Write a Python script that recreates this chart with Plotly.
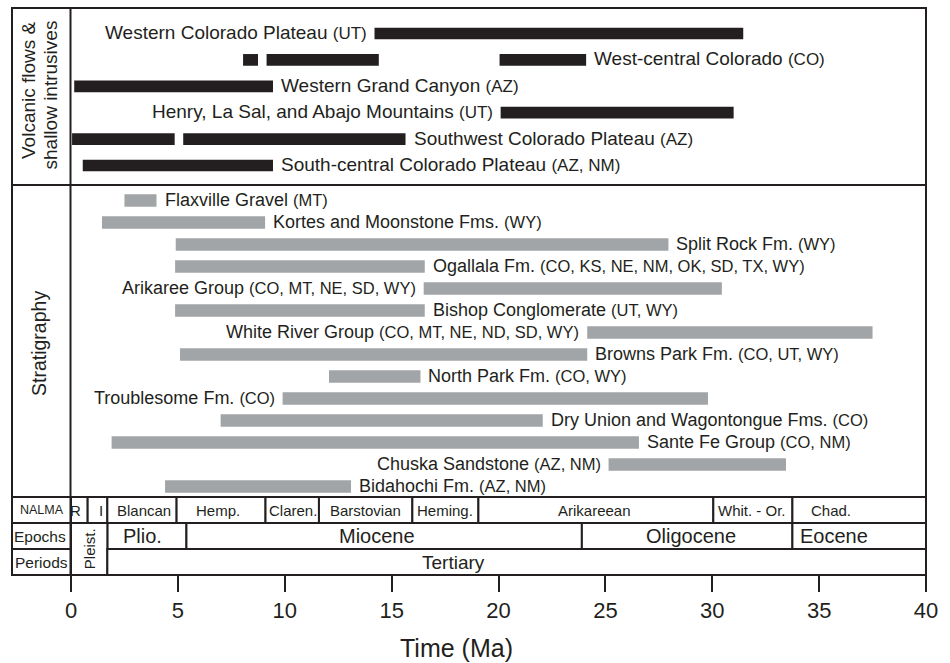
import plotly.graph_objects as go

# ---------------- data ----------------
volc_names = ["Western Colorado Plateau", "West-central Colorado", "Western Grand Canyon",
              "Henry, La Sal, and Abajo Mountains", "Southwest Colorado Plateau",
              "South-central Colorado Plateau"]
volc_states = ["UT", "CO", "AZ", "UT", "AZ", "AZ, NM"]
volc_seg_unit = [0, 1, 1, 1, 2, 3, 4, 4, 5]
volc_seg_start = [14.2, 8.05, 9.15, 20.05, 0.15, 20.1, 0.05, 5.25, 0.55]
volc_seg_end = [31.45, 8.75, 14.4, 24.1, 9.45, 31.0, 4.85, 15.65, 9.45]

strat_names = ["Flaxville Gravel", "Kortes and Moonstone Fms.", "Split Rock Fm.", "Ogallala Fm.",
               "Arikaree Group", "Bishop Conglomerate", "White River Group", "Browns Park Fm.",
               "North Park Fm.", "Troublesome Fm.", "Dry Union and Wagontongue Fms.",
               "Sante Fe Group", "Chuska Sandstone", "Bidahochi Fm."]
strat_states = ["MT", "WY", "WY", "CO, KS, NE, NM, OK, SD, TX, WY", "CO, MT, NE, SD, WY", "UT, WY",
                "CO, MT, NE, ND, SD, WY", "CO, UT, WY", "CO, WY", "CO", "CO", "CO, NM",
                "AZ, NM", "AZ, NM"]
strat_start = [2.5, 1.45, 4.9, 4.87, 16.5, 4.87, 24.15, 5.1, 12.07, 9.9, 7.0, 1.9, 25.15, 4.4]
strat_end = [4.0, 9.08, 27.95, 16.55, 30.45, 16.55, 37.5, 24.15, 16.35, 29.8, 22.07, 26.57, 33.45, 13.1]

nalma_names = ["R", "I", "Blancan", "Hemp.", "Claren.", "Barstovian", "Heming.", "Arikareean",
               "Whit. - Or.", "Chad."]
nalma_bounds = [0, 0.78, 1.7, 4.94, 9.1, 11.6, 15.97, 19.06, 30.05, 33.75, 40]
epoch_names = ["Pleist.", "Plio.", "Miocene", "Oligocene", "Eocene"]
epoch_bounds = [0, 1.7, 5.4, 23.9, 33.75, 40]
period_names = ["Tertiary"]
period_bounds = [1.7, 40]

tick_values = [0, 5, 10, 15, 20, 25, 30, 35, 40]
tick_labels = ["0", "5", "10", "15", "20", "25", "30", "35", "40"]

# ---------------- styling / layout helpers ----------------
volc_label_side = ["left", "right", "right", "left", "right", "right"]
strat_label_side = ["right", "right", "right", "right", "left", "right", "left", "right",
                    "right", "left", "right", "right", "left", "right"]
nalma_label_x = [0.22, 1.38, 3.42, 6.9, 10.38, 13.78, 17.5, 24.5, 31.85, 35.55]
epoch_label_x = [None, 3.36, 14.3, 29.0, 35.7]
period_label_x = [17.9]

FONT = "Liberation Sans, Arial, Helvetica, sans-serif"
INK = "#231f20"
BLACK_BAR = "#231f20"
GRAY_BAR = "#a2a5a7"

W, H = 950, 663
L_PX, R_PX, T_PX, B_PX = 71, 926, 8, 575
LEFT_COL_PX = 12


def pxx(p):
    return (p - L_PX) / (R_PX - L_PX)


def pxy(p):
    return (B_PX - p) / (B_PX - T_PX)


VOLC_BOT = 185
STRAT_BOT = 497
volc_pitch, volc_first = 26.4, 33.5
strat_pitch, strat_first = 22.0, 200.5
v_min = -(volc_first - T_PX) / volc_pitch
v_max = v_min + (VOLC_BOT - T_PX) / volc_pitch
s_min = -(strat_first - VOLC_BOT) / strat_pitch
s_max = s_min + (STRAT_BOT - VOLC_BOT) / strat_pitch

fig = go.Figure()

# volcanic bars
fig.add_trace(go.Bar(
    orientation="h", y=volc_seg_unit,
    base=volc_seg_start, x=[e - s for s, e in zip(volc_seg_start, volc_seg_end)],
    width=11.7 / volc_pitch, marker=dict(color=BLACK_BAR, line=dict(width=0)),
    xaxis="x", yaxis="y", hoverinfo="skip"))

# stratigraphy bars
fig.add_trace(go.Bar(
    orientation="h", y=list(range(len(strat_names))),
    base=strat_start, x=[e - s for s, e in zip(strat_start, strat_end)],
    width=12.4 / strat_pitch, marker=dict(color=GRAY_BAR, line=dict(width=0)),
    xaxis="x", yaxis="y2", hoverinfo="skip"))


def ts_trace(bounds, row, width=1.0):
    return go.Bar(orientation="h", y=[row] * (len(bounds) - 1), base=bounds[:-1],
                  x=[b - a for a, b in zip(bounds[:-1], bounds[1:])], width=width,
                  marker=dict(color="white", line=dict(color=INK, width=2)),
                  xaxis="x", yaxis="y3", hoverinfo="skip")


fig.add_trace(ts_trace(nalma_bounds, 0))
fig.add_trace(ts_trace(epoch_bounds[1:], 1))
fig.add_trace(ts_trace(epoch_bounds[:2], 1.5, width=2.0))
fig.add_trace(ts_trace(period_bounds, 2))

annotations = []


def label(text, x, y, yref, side, size):
    annotations.append(dict(
        text=text, x=x, y=y, xref="x", yref=yref, showarrow=False,
        xanchor="left" if side == "right" else "right", yanchor="middle",
        xshift=6 if side == "right" else -6, yshift=1,
        font=dict(family=FONT, size=size, color=INK)))


def rich(name, st, psize):
    return f"{name} <span style='font-size:{psize}px'>({st})</span>"


for i, name in enumerate(volc_names):
    segs = [(s, e) for u, s, e in zip(volc_seg_unit, volc_seg_start, volc_seg_end) if u == i]
    side = volc_label_side[i]
    x = max(e for s, e in segs) if side == "right" else min(s for s, e in segs)
    label(rich(name, volc_states[i], 17), x, i, "y", side, 19)

for i, name in enumerate(strat_names):
    side = strat_label_side[i]
    x = strat_end[i] if side == "right" else strat_start[i]
    label(rich(name, strat_states[i], 16.5), x, i, "y2", side, 18)


def ts_label(text, x, row, size):
    annotations.append(dict(text=text, x=x, y=row, xref="x", yref="y3", showarrow=False,
                            xanchor="center", yanchor="middle",
                            font=dict(family=FONT, size=size, color=INK)))


for n, x in zip(nalma_names, nalma_label_x):
    ts_label(n, x, 0, 15)
for n, x in zip(epoch_names[1:], epoch_label_x[1:]):
    ts_label(n, x, 1, 20)
for n, x in zip(period_names, period_label_x):
    ts_label(n, x, 2, 19)
annotations.append(dict(text="Pleist.", x=(epoch_bounds[0] + epoch_bounds[1]) / 2, y=1.5,
                        xref="x", yref="y3", showarrow=False, textangle=-90,
                        xanchor="center", yanchor="middle",
                        font=dict(family=FONT, size=15, color=INK)))


def paper_text(text, xp, yp, size, angle=0, xanchor="center", yanchor="middle"):
    annotations.append(dict(text=text, x=pxx(xp), y=pxy(yp), xref="paper", yref="paper",
                            showarrow=False, textangle=angle, xanchor=xanchor, yanchor=yanchor,
                            font=dict(family=FONT, size=size, color=INK)))


paper_text("Volcanic flows &amp;", 28, 19, 19, angle=-90, yanchor="top")
paper_text("shallow intrusives", 50, 19, 19, angle=-90, yanchor="top")
paper_text("Stratigraphy", 39, 344, 19.5, angle=-90)
paper_text("NALMA", 41.5, 510, 12.5)
paper_text("Epochs", 40, 536, 15.5)
paper_text("Periods", 41.5, 562, 15.5)
paper_text("Time (Ma)", 456, 648, 25)

# frame
shapes = []


def line(x0, y0, x1, y1):
    shapes.append(dict(type="line", xref="paper", yref="paper", x0=pxx(x0), y0=pxy(y0),
                       x1=pxx(x1), y1=pxy(y1), line=dict(color=INK, width=2)))


shapes.append(dict(type="rect", xref="paper", yref="paper", x0=pxx(LEFT_COL_PX), y0=0,
                   x1=1, y1=1, line=dict(color=INK, width=2)))
line(70.5, T_PX, 70.5, B_PX)
line(LEFT_COL_PX, VOLC_BOT, R_PX, VOLC_BOT)
line(LEFT_COL_PX, STRAT_BOT, R_PX, STRAT_BOT)
line(LEFT_COL_PX, 523, 70.5, 523)
line(LEFT_COL_PX, 549, 70.5, 549)

fig.update_layout(
    width=W, height=H, autosize=False,
    margin=dict(l=L_PX, r=W - R_PX, t=T_PX, b=H - B_PX, pad=0),
    paper_bgcolor="white", plot_bgcolor="white",
    barmode="overlay", showlegend=False,
    font=dict(family=FONT, color=INK),
    xaxis=dict(domain=[0, 1], range=[0, 40], anchor="y3", tickmode="array",
               tickvals=tick_values, ticktext=tick_labels, ticks="outside", ticklen=16,
               tickwidth=2, tickcolor=INK, showline=False, showgrid=False, zeroline=False,
               tickfont=dict(family=FONT, size=22, color=INK), fixedrange=True),
    yaxis=dict(domain=[pxy(VOLC_BOT), 1], range=[v_max, v_min], visible=False,
               anchor="x", fixedrange=True),
    yaxis2=dict(domain=[pxy(STRAT_BOT), pxy(VOLC_BOT)], range=[s_max, s_min], visible=False,
                anchor="x", fixedrange=True),
    yaxis3=dict(domain=[0, pxy(STRAT_BOT)], range=[2.5, -0.5], visible=False,
                anchor="x", fixedrange=True),
    annotations=annotations, shapes=shapes,
)

fig.write_html("out.html", config={"displayModeBar": False},
               post_script="document.body.style.margin='0';document.body.style.overflow='hidden';")
